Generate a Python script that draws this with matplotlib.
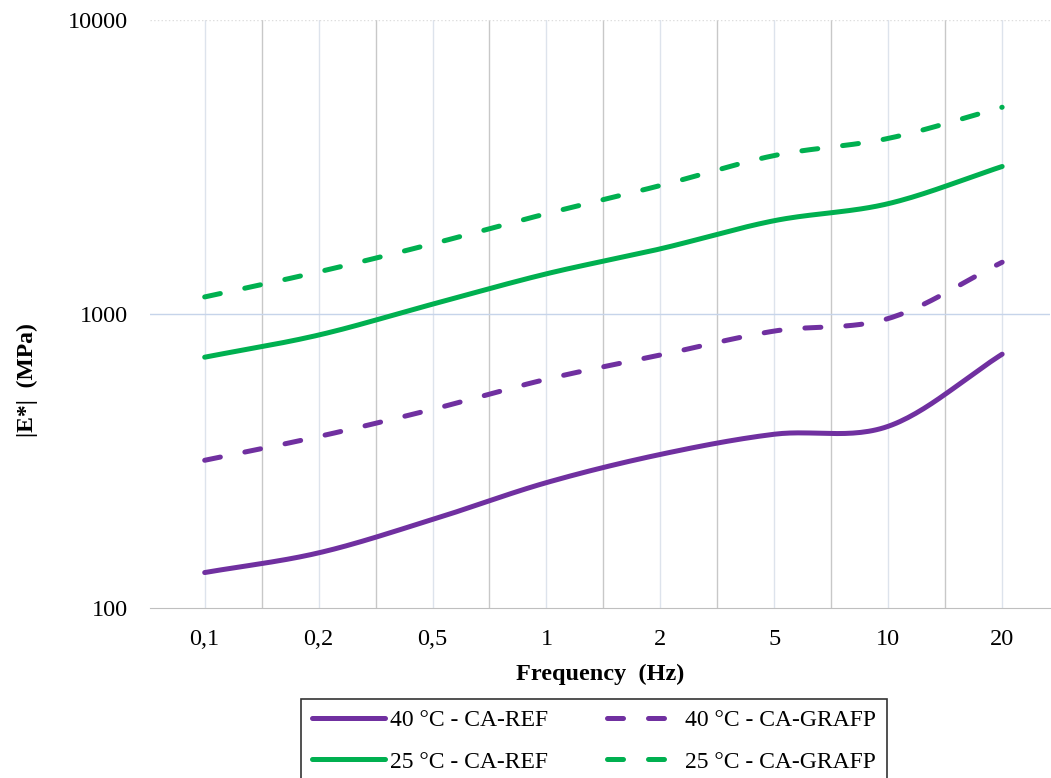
import numpy as np
import matplotlib.pyplot as plt

freq_labels = ['0,1', '0,2', '0,5', '1', '2', '5', '10', '20']
ref_40 = [132, 154, 200, 267, 333, 390, 415, 730]
grafp_40 = [318, 383, 474, 600, 725, 875, 965, 1500]
ref_25 = [713, 848, 1080, 1370, 1666, 2077, 2373, 3175]
grafp_25 = [1143, 1391, 1733, 2194, 2735, 3460, 3956, 5050]

purple = '#7030A0'
green = '#00B050'


def smooth(x, y, n=30):
    # catmull-rom through the points, in (index, log10) space like excel's smoothed line
    x = np.asarray(x, float)
    ly = np.log10(y)
    px = np.concatenate([[2 * x[0] - x[1]], x, [2 * x[-1] - x[-2]]])
    py = np.concatenate([[2 * ly[0] - ly[1]], ly, [2 * ly[-1] - ly[-2]]])
    xs, ys = [], []
    t = np.linspace(0, 1, n)
    for i in range(1, len(px) - 2):
        for p, out in ((px, xs), (py, ys)):
            p0, p1, p2, p3 = p[i - 1], p[i], p[i + 1], p[i + 2]
            out.append(0.5 * (2 * p1 + (-p0 + p2) * t
                              + (2 * p0 - 5 * p1 + 4 * p2 - p3) * t ** 2
                              + (-p0 + 3 * p1 - 3 * p2 + p3) * t ** 3))
    return np.concatenate(xs), 10 ** np.concatenate(ys)


plt.rcParams['font.family'] = ['Liberation Serif', 'DejaVu Serif']

fig = plt.figure(figsize=(10.51, 7.78), dpi=100)
ax = fig.add_axes([150 / 1051, 1 - 608 / 778, 900 / 1051, 588 / 778])

idx = np.arange(len(freq_labels))

# vertical grid: category boundaries darker, category centres lighter
for b in np.arange(-0.5, 8.0, 1.0):
    ax.axvline(b, color='#c8c8c8', lw=1, zorder=0)
for c in idx:
    ax.axvline(c, color='#dde3ec', lw=1, zorder=0)
ax.axhline(1000, color='#c6d4ea', lw=1, zorder=0)
ax.axhline(10000, color='#dddddd', lw=1, ls=':', zorder=0)

lw = 3.6
for vals, col, ls, lab in [(ref_40, purple, '-', '40 °C - CA-REF'),
                           (grafp_40, purple, '--', '40 °C - CA-GRAFP'),
                           (ref_25, green, '-', '25 °C - CA-REF'),
                           (grafp_25, green, '--', '25 °C - CA-GRAFP')]:
    sx, sy = smooth(idx, vals)
    if ls == '--':
        ax.plot(sx, sy, color=col, lw=lw, dashes=(3.2, 5.0),
                dash_capstyle='round', label=lab)
    else:
        ax.plot(sx, sy, color=col, lw=lw, solid_capstyle='round', label=lab)

ax.set_yscale('log')
ax.set_ylim(100, 10000)
ax.set_xlim(-0.48, 7.42)
ax.set_yticks([100, 1000, 10000])
ax.set_yticklabels(['100', '1000', '10000'])
ax.minorticks_off()
ax.set_xticks(idx)
ax.set_xticklabels(freq_labels)
ax.tick_params(length=0, labelsize=17.5, pad=15)
ax.tick_params(axis='y', pad=16)

for s in ['top', 'right', 'left']:
    ax.spines[s].set_visible(False)
ax.spines['bottom'].set_color('#bfbfbf')

ax.set_xlabel('Frequency  (Hz)', fontsize=17.5, fontweight='bold', labelpad=10)
ax.set_ylabel('|E*|  (MPa)', fontsize=17, fontweight='bold')
ax.yaxis.set_label_coords(-0.125, 0.388)

h, l = ax.get_legend_handles_labels()
order = [0, 2, 1, 3]
leg = fig.legend([h[i] for i in order], [l[i] for i in order], ncol=2,
                 loc='upper center', bbox_to_anchor=(594 / 1051, 1 - 699 / 778),
                 fontsize=17, frameon=True, fancybox=False, edgecolor='black',
                 handlelength=3.1, handletextpad=0.2, columnspacing=2.5,
                 labelspacing=0.85, borderpad=0.45, borderaxespad=0)
leg.get_frame().set_linewidth(1.2)

fig.savefig('out.png', dpi=100)
